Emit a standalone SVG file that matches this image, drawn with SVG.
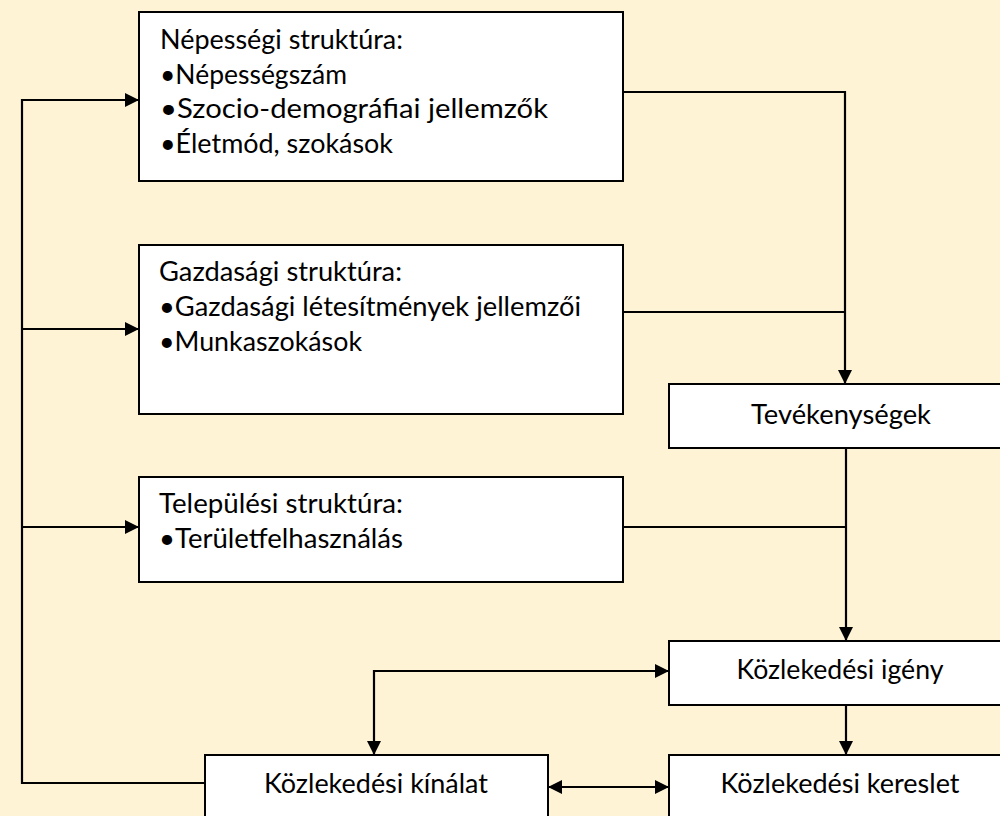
<svg xmlns="http://www.w3.org/2000/svg" width="1000" height="816" viewBox="0 0 1000 816">
  <style>
    .box { fill: #ffffff; stroke: #000000; stroke-width: 2; }
    .txt { font-family: Lato, "Liberation Sans", sans-serif; font-size: 27px; fill: #000000; }
    .mid { text-anchor: middle; }
    .con { fill: none; stroke: #000000; stroke-width: 2.2; }
    .thin { stroke-width: 1.8; }
  </style>
  <defs>
    <marker id="arr" viewBox="0 0 14 14" refX="14" refY="7" markerWidth="14" markerHeight="14" orient="auto-start-reverse" markerUnits="userSpaceOnUse">
      <path d="M0,0 L14,7 L0,14 z" fill="#000000"/>
    </marker>
  </defs>
  <rect x="0" y="0" width="1000" height="816" fill="#FFF3D6"/>

  <g id="connectors">
    <path class="con" d="M205,783 H22 V100 H139" marker-end="url(#arr)"/>
    <path class="con" d="M22,329 H139" marker-end="url(#arr)"/>
    <path class="con" d="M22,527 H139" marker-end="url(#arr)"/>
    <path class="con" d="M623,92 H845 V384" marker-end="url(#arr)"/>
    <path class="con" d="M623,312 H845"/>
    <path class="con" d="M846,448 V641" marker-end="url(#arr)"/>
    <path class="con" d="M623,527 H846"/>
    <path class="con" d="M669,671 H374 V755" marker-start="url(#arr)" marker-end="url(#arr)"/>
    <path class="con" d="M846,705 V755" marker-end="url(#arr)"/>
    <path class="con" d="M548,787 H669" marker-start="url(#arr)" marker-end="url(#arr)"/>
  </g>

  <g id="nepessegi">
    <rect class="box" x="139" y="12" width="484" height="169"/>
    <text class="txt" x="160" y="49" textLength="243" lengthAdjust="spacingAndGlyphs">Népességi struktúra:</text>
    <text class="txt" x="160" y="84" textLength="187" lengthAdjust="spacingAndGlyphs">•Népességszám</text>
    <text class="txt" x="160" y="118" textLength="388" lengthAdjust="spacingAndGlyphs">•Szocio-demográfiai jellemzők</text>
    <text class="txt" x="160" y="153" textLength="233" lengthAdjust="spacingAndGlyphs">•Életmód, szokások</text>
  </g>

  <g id="gazdasagi">
    <rect class="box" x="139" y="245" width="484" height="169"/>
    <text class="txt" x="159" y="281" textLength="243" lengthAdjust="spacingAndGlyphs">Gazdasági struktúra:</text>
    <text class="txt" x="159" y="316" textLength="422" lengthAdjust="spacingAndGlyphs">•Gazdasági létesítmények jellemzői</text>
    <text class="txt" x="159" y="351" textLength="203" lengthAdjust="spacingAndGlyphs">•Munkaszokások</text>
  </g>

  <g id="telepulesi">
    <rect class="box" x="139" y="477" width="484" height="105"/>
    <text class="txt" x="159" y="513" textLength="244" lengthAdjust="spacingAndGlyphs">Települési struktúra:</text>
    <text class="txt" x="159" y="548" textLength="244" lengthAdjust="spacingAndGlyphs">•Területfelhasználás</text>
  </g>

  <g id="tevekenysegek">
    <rect class="box" x="669" y="384" width="345" height="64"/>
    <text class="txt mid" x="841" y="424" textLength="180" lengthAdjust="spacingAndGlyphs">Tevékenységek</text>
  </g>

  <g id="igeny">
    <rect class="box" x="669" y="641" width="345" height="64"/>
    <text class="txt mid" x="840" y="679" textLength="207" lengthAdjust="spacingAndGlyphs">Közlekedési igény</text>
  </g>

  <g id="kinalat">
    <rect class="box" x="205" y="755" width="343" height="80"/>
    <text class="txt mid" x="376" y="793" textLength="224" lengthAdjust="spacingAndGlyphs">Közlekedési kínálat</text>
  </g>

  <g id="kereslet">
    <rect class="box" x="669" y="755" width="345" height="80"/>
    <text class="txt mid" x="840" y="793" textLength="239" lengthAdjust="spacingAndGlyphs">Közlekedési kereslet</text>
  </g>
</svg>
